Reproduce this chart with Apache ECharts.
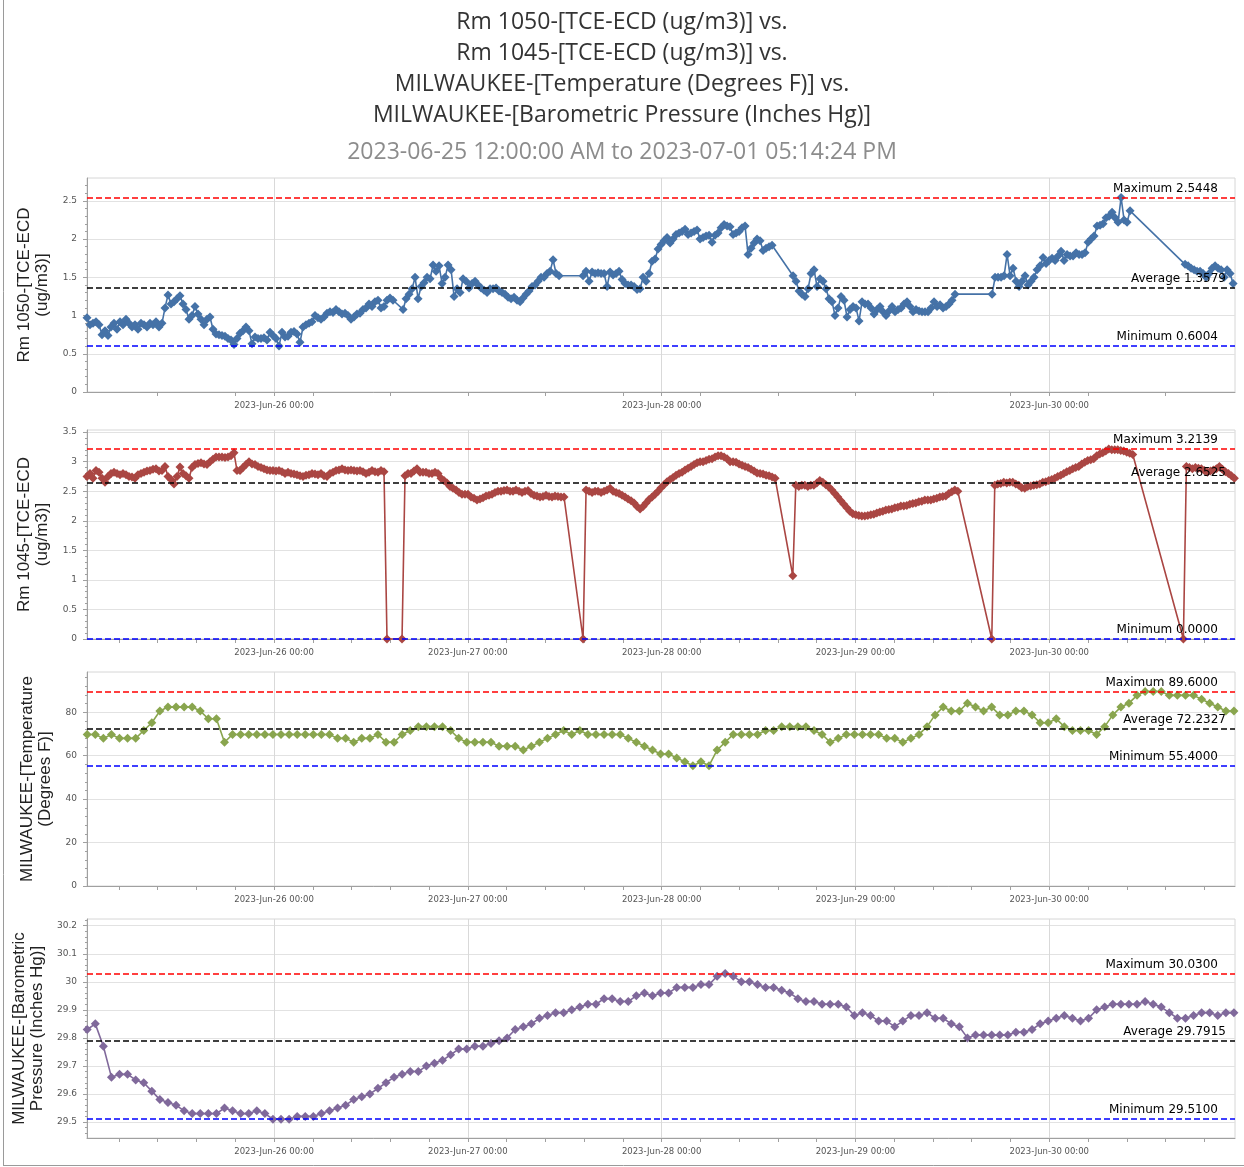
<!DOCTYPE html>
<html>
<head>
<meta charset="utf-8">
<title>Rm 1050 vs Rm 1045 vs MILWAUKEE</title>
<script src="https://cdn.jsdelivr.net/npm/echarts@6/dist/echarts.min.js"></script>
<style>
  html, body { margin: 0; padding: 0; background: #fff; }
  #container { width: 1244px; height: 1167px; }
</style>
</head>
<body>
<div id="container"></div>
<script>
// x values are hours counted from 2023-06-25 00:00
const X_MIN = 0.84;
const X_MAX = 143.0;

const DAY_HOURS = [24, 48, 72, 96, 120];
const DAY_LABELS = ['2023-Jun-26 00:00', '2023-Jun-27 00:00', '2023-Jun-28 00:00', '2023-Jun-29 00:00', '2023-Jun-30 00:00'];
const TOP_DAY_HOURS = [24, 72, 120];

const TITLE_LINES = [
  'Rm 1050-[TCE-ECD (ug/m3)] vs.',
  'Rm 1045-[TCE-ECD (ug/m3)] vs.',
  'MILWAUKEE-[Temperature (Degrees F)] vs.',
  'MILWAUKEE-[Barometric Pressure (Inches Hg)]'
];
const SUBTITLE = '2023-06-25 12:00:00 AM to 2023-07-01 05:14:24 PM';

const Y_NAMES = [
  'Rm 1050-[TCE-ECD\n(ug/m3)]',
  'Rm 1045-[TCE-ECD\n(ug/m3)]',
  'MILWAUKEE-[Temperature\n(Degrees F)]',
  'MILWAUKEE-[Barometric\nPressure (Inches Hg)]'
];
const Y_TICKS_1050 = [0, 0.5, 1, 1.5, 2, 2.5];
const Y_TICKS_1045 = [0, 0.5, 1, 1.5, 2, 2.5, 3, 3.5];
const Y_TICKS_TEMP = [0, 20, 40, 60, 80];
const Y_TICKS_PRESS = [29.5, 29.6, 29.7, 29.8, 29.9, 30, 30.1, 30.2];

// [maximum, average, minimum]
const STATS_1050 = [2.5448, 1.3579, 0.6004];
const STATS_1045 = [3.2139, 2.6525, 0.0000];
const STATS_TEMP = [89.6, 72.2327, 55.4];
const STATS_PRESS = [30.03, 29.7915, 29.51];

// sensor readings, one every SAMPLE_STEP_H hours inside each run
const SAMPLE_STEP_H = 0.3715;

const RM1050_RUN_START = [0.84, 39.98, 62.27, 88.27, 112.92, 136.82];
const RM1050_RUNS = [
  [0.97,0.88,0.90,0.92,0.88,0.75,0.80,0.74,0.85,0.90,
   0.82,0.92,0.88,0.95,0.90,0.85,0.88,0.82,0.90,0.88,
   0.85,0.90,0.88,0.92,0.85,0.90,1.10,1.27,1.15,1.18,
   1.22,1.26,1.15,1.08,0.95,1.00,1.12,1.02,0.95,0.88,
   0.95,0.98,0.82,0.76,0.75,0.74,0.73,0.70,0.68,0.62,
   0.70,0.77,0.80,0.85,0.80,0.63,0.72,0.70,0.70,0.71,
   0.68,0.78,0.74,0.70,0.6004,0.78,0.72,0.73,0.78,0.79,
   0.76,0.65,0.85,0.88,0.90,0.92,1.00,0.97,0.95,0.98,
   1.03,1.05,1.04,1.08,1.05,1.02,1.03,1.00,0.95,0.98,
   1.02,1.03,1.08,1.10,1.15,1.12,1.18,1.20,1.10,1.12,
   1.20,1.23,1.20],
  [1.08,1.22,1.28,1.35,1.50,1.22,1.38,1.43,1.50,1.48,
   1.66,1.58,1.65,1.42,1.50,1.66,1.60,1.25,1.35,1.30,
   1.48,1.45,1.36,1.42,1.45,1.40,1.36,1.33,1.30,1.35,
   1.35,1.36,1.32,1.30,1.28,1.24,1.22,1.24,1.20,1.18,
   1.23,1.28,1.32,1.38,1.40,1.45,1.50,1.50,1.55,1.58,
   1.73,1.55,1.52],
  [1.52,1.58,1.45,1.57,1.55,1.56,1.55,1.55,1.38,1.57,
   1.53,1.55,1.58,1.47,1.42,1.40,1.40,1.38,1.34,1.35,
   1.50,1.45,1.55,1.71,1.74,1.87,1.93,1.98,2.02,1.95,
   2.00,2.06,2.08,2.10,2.13,2.06,2.08,2.10,2.12,2.00,
   2.02,2.04,2.05,1.96,2.05,2.08,2.15,2.19,2.17,2.16,
   2.06,2.08,2.10,2.15,2.17,1.80,1.88,1.95,2.00,1.98,
   1.85,1.88,1.90,1.92],
  [1.52,1.45,1.32,1.28,1.25,1.35,1.55,1.60,1.38,1.48,
   1.45,1.35,1.22,1.18,1.00,1.10,1.25,1.20,0.98,1.08,
   1.12,1.10,0.93,1.18,1.15,1.15,1.10,1.02,1.08,1.12,
   1.05,1.00,1.06,1.12,1.05,1.08,1.10,1.15,1.18,1.12,
   1.05,1.08,1.06,1.05,1.05,1.05,1.10,1.18,1.12,1.14,
   1.10,1.12,1.15,1.20,1.28],
  [1.28,1.50,1.50,1.50,1.52,1.80,1.52,1.62,1.45,1.38,
   1.45,1.52,1.40,1.45,1.50,1.60,1.65,1.76,1.68,1.72,
   1.75,1.72,1.78,1.84,1.72,1.80,1.78,1.78,1.82,1.80,
   1.80,1.82,1.96,2.00,2.04,2.17,2.18,2.20,2.28,2.30,
   2.35,2.28,2.22,2.5448,2.25,2.22,2.37],
  [1.67,1.65,1.62,1.60,1.58,1.58,1.55,1.50,1.55,1.62,
   1.65,1.62,1.60,1.50,1.60,1.55,1.42]
];

const RM1045_RUN_START = [0.84, 39.85, 62.27, 88.24, 112.88, 136.61];
const RM1045_RUNS = [
  [2.75,2.80,2.72,2.85,2.82,2.72,2.65,2.75,2.80,2.82,
   2.80,2.78,2.80,2.78,2.75,2.74,2.72,2.78,2.80,2.82,
   2.84,2.85,2.87,2.88,2.84,2.85,2.92,2.75,2.70,2.62,
   2.75,2.91,2.80,2.76,2.72,2.90,2.95,2.97,2.98,2.96,
   2.95,3.00,3.04,3.08,3.08,3.08,3.07,3.08,3.10,3.15,
   2.85,2.85,2.90,2.95,3.00,2.96,2.95,2.92,2.90,2.88,
   2.86,2.85,2.85,2.84,2.85,2.83,2.80,2.82,2.80,2.79,
   2.78,2.76,2.75,2.77,2.78,2.80,2.79,2.78,2.80,2.76,
   2.75,2.80,2.82,2.85,2.86,2.88,2.86,2.85,2.86,2.85,
   2.84,2.85,2.83,2.80,2.82,2.85,2.83,2.82,2.85,2.83,
   0],
  [0,2.76,2.80,2.80,2.84,2.88,2.82,2.82,2.82,2.80,
   2.80,2.82,2.80,2.72,2.68,2.64,2.58,2.55,2.52,2.48,
   2.45,2.45,2.45,2.40,2.38,2.35,2.37,2.39,2.42,2.43,
   2.45,2.48,2.50,2.50,2.51,2.52,2.50,2.50,2.52,2.50,
   2.48,2.50,2.51,2.46,2.43,2.42,2.40,2.41,2.43,2.41,
   2.40,2.42,2.41,2.40,2.40],
  [0,2.52,2.50,2.48,2.50,2.50,2.48,2.50,2.52,2.55,
   2.50,2.48,2.46,2.43,2.40,2.37,2.34,2.30,2.24,2.20,
   2.24,2.30,2.36,2.40,2.45,2.50,2.56,2.61,2.66,2.70,
   2.73,2.77,2.80,2.82,2.86,2.89,2.92,2.95,2.98,3.00,
   3.00,3.02,3.04,3.05,3.08,3.10,3.10,3.08,3.05,3.00,
   3.00,2.99,2.96,2.94,2.92,2.90,2.87,2.84,2.81,2.80,
   2.79,2.77,2.76,2.74,2.72],
  [1.07,2.60,2.58,2.60,2.60,2.58,2.60,2.60,2.64,2.68,
   2.65,2.61,2.57,2.52,2.46,2.40,2.34,2.28,2.22,2.16,
   2.12,2.10,2.09,2.08,2.08,2.09,2.10,2.11,2.13,2.15,
   2.16,2.18,2.19,2.20,2.22,2.23,2.25,2.25,2.26,2.28,
   2.29,2.30,2.32,2.33,2.35,2.35,2.35,2.37,2.38,2.40,
   2.41,2.42,2.46,2.49,2.52,2.50],
  [0,2.60,2.62,2.63,2.65,2.64,2.65,2.65,2.62,2.60,
   2.56,2.55,2.58,2.59,2.60,2.61,2.62,2.65,2.66,2.68,
   2.70,2.72,2.75,2.77,2.80,2.83,2.85,2.88,2.90,2.92,
   2.96,2.99,3.02,3.03,3.05,3.10,3.13,3.15,3.18,3.2139,
   3.20,3.20,3.20,3.19,3.18,3.16,3.14,3.12],
  [0,2.92,2.90,2.88,2.90,2.89,2.88,2.85,2.82,2.84,
   2.86,2.88,2.92,2.87,2.83,2.80,2.76,2.72]
];

// hourly weather observations, first one at 00:52 on Jun-25
const FIRST_OBS_H = 52 / 60;
const TEMP_F = [
  69.8,69.8,68,69.8,68,68,68,71.6,75.2,80.6,
  82.4,82.4,82.4,82.4,80.6,77,77,66.2,69.8,69.8,
  69.8,69.8,69.8,69.8,69.8,69.8,69.8,69.8,69.8,69.8,
  69.8,68,68,66.2,68,68,69.8,66.2,66.2,69.8,
  71.6,73.4,73.4,73.4,73.4,71.6,68,66.2,66.2,66.2,
  66.2,64.4,64.4,64.4,62.6,64.4,66.2,68,69.8,71.6,
  69.8,71.6,69.8,69.8,69.8,69.8,69.8,68,66.2,64.4,
  62.6,60.8,60.8,59,57.2,55.4,57.2,55.4,62.6,66.2,
  69.8,69.8,69.8,69.8,71.6,71.6,73.4,73.4,73.4,73.4,
  71.6,69.8,66.2,68,69.8,69.8,69.8,69.8,69.8,68,
  68,66.2,68,69.8,73.4,78.8,82.4,80.6,80.6,84.2,
  82.4,80.6,82.4,78.8,78.8,80.6,80.6,78.8,75.2,75.2,
  77,73.4,71.6,71.6,71.6,69.8,73.4,78.8,82.4,84.2,
  87.8,89.6,89.6,89.6,87.8,87.8,87.8,87.8,86,84.2,
  82.4,80.6,80.6
];
const PRESS_INHG = [
  29.83,29.85,29.77,29.66,29.67,29.67,29.65,29.64,29.61,29.58,
  29.57,29.56,29.54,29.53,29.53,29.53,29.53,29.55,29.54,29.53,
  29.53,29.54,29.53,29.51,29.51,29.51,29.52,29.52,29.52,29.53,
  29.54,29.55,29.56,29.58,29.59,29.60,29.62,29.64,29.66,29.67,
  29.68,29.68,29.70,29.71,29.72,29.74,29.76,29.76,29.77,29.77,
  29.78,29.79,29.80,29.83,29.84,29.85,29.87,29.88,29.89,29.89,
  29.90,29.91,29.92,29.92,29.94,29.94,29.93,29.93,29.95,29.96,
  29.95,29.96,29.96,29.98,29.98,29.98,29.99,29.99,30.02,30.03,
  30.02,30.00,30.00,29.99,29.98,29.98,29.97,29.96,29.94,29.93,
  29.93,29.92,29.92,29.92,29.91,29.88,29.89,29.88,29.86,29.86,
  29.84,29.86,29.88,29.88,29.89,29.87,29.87,29.85,29.84,29.80,
  29.81,29.81,29.81,29.81,29.81,29.82,29.82,29.83,29.85,29.86,
  29.87,29.88,29.87,29.86,29.87,29.90,29.91,29.92,29.92,29.92,
  29.92,29.93,29.92,29.91,29.89,29.87,29.87,29.88,29.89,29.89,
  29.88,29.89,29.89
];

const COLORS = ['#4572A7', '#AA4643', '#89A54E', '#80699B'];

function runsToPoints(starts, runs) {
  let pts = [];
  runs.forEach(function (vals, r) {
    vals.forEach(function (v, i) { pts.push([starts[r] + i * SAMPLE_STEP_H, v]); });
  });
  return pts;
}
function hourlyToPoints(vals) {
  return vals.map(function (v, i) { return [FIRST_OBS_H + i, v]; });
}
function minorHours(step) {
  let out = [];
  for (let h = step; h < X_MAX; h += step) {
    if (h > X_MIN) out.push(Math.round(h * 100) / 100);
  }
  return out;
}

const grids = [
  {left: 87, right: 9, top: 178, height: 214},
  {left: 87, right: 9, top: 430, height: 209},
  {left: 87, right: 9, top: 672, height: 214},
  {left: 87, right: 9, top: 919, height: 219}
];
grids.forEach(function (g) { g.show = true; g.borderColor = '#d6d6d6'; g.borderWidth = 1; });

const AXIS_GREY = '#a0a0a0';
const tickFont = {color: '#555', fontSize: 8.5, fontFamily: 'DejaVu Sans'};

let xAxes = [];
for (let i = 0; i < 4; i++) {
  let days = i === 0 ? TOP_DAY_HOURS : DAY_HOURS;
  xAxes.push({
    type: 'value', gridIndex: i, min: X_MIN, max: X_MAX, position: 'bottom',
    axisLine: {onZero: false, lineStyle: {color: AXIS_GREY}},
    axisTick: {customValues: days, length: 4, lineStyle: {color: AXIS_GREY}},
    axisLabel: Object.assign({
      customValues: days, margin: 9,
      formatter: function (v) { return DAY_LABELS[DAY_HOURS.indexOf(Math.round(v))]; }
    }, tickFont),
    splitLine: {show: true, lineStyle: {color: '#d9d9d9'}}
  });
}
for (let i = 0; i < 4; i++) {
  // second axis only carries the small ticks
  xAxes.push({
    type: 'value', gridIndex: i, min: X_MIN, max: X_MAX, position: 'bottom',
    axisLine: {show: false},
    axisTick: {customValues: minorHours(i === 0 ? 9.6 : 4.8), length: 4, lineStyle: {color: AXIS_GREY}},
    axisLabel: {show: false},
    splitLine: {show: false}
  });
}

const yRanges = [
  {min: 0, max: 2.7993, interval: 0.5, ticks: Y_TICKS_1050},
  {min: 0, max: 3.5353, interval: 0.5, ticks: Y_TICKS_1045},
  {min: 0, max: 98.56, interval: 20, ticks: Y_TICKS_TEMP},
  {min: 29.443, max: 30.224, splitNumber: 8, ticks: Y_TICKS_PRESS}
];
let yAxes = yRanges.map(function (r, i) {
  let ax = {
    type: 'value', gridIndex: i, min: r.min, max: r.max,
    name: Y_NAMES[i], nameLocation: 'middle', nameRotate: 90, nameGap: 31,
    nameTextStyle: {fontFamily: 'Liberation Sans', fontSize: 17, color: '#222', lineHeight: 18},
    axisLine: {show: true, lineStyle: {color: AXIS_GREY}},
    axisTick: {show: true, customValues: r.ticks, length: 4, lineStyle: {color: AXIS_GREY}},
    minorTick: {show: true, splitNumber: 5, length: 2, lineStyle: {color: AXIS_GREY}},
    axisLabel: Object.assign({customValues: r.ticks, margin: 10}, tickFont, {fontSize: 9}),
    splitLine: {show: true, lineStyle: {color: '#e2e2e2'}}
  };
  if (r.interval) ax.interval = r.interval;
  if (r.splitNumber) ax.splitNumber = r.splitNumber;
  return ax;
});

function statLines(stats, avgShift) {
  const mk = function (v, name, color, dx) {
    return {
      yAxis: v,
      lineStyle: {color: color},
      label: {formatter: name + ' ' + v.toFixed(4), distance: [dx, 3]}
    };
  };
  return {
    silent: true, animation: false, symbol: ['none', 'none'],
    lineStyle: {type: [6, 3], width: 1.5},
    label: {position: 'insideEndTop', color: '#000', fontSize: 12, fontFamily: 'DejaVu Sans'},
    emphasis: {disabled: true},
    data: [
      mk(stats[0], 'Maximum', '#ff0000', 17),
      mk(stats[1], 'Average', '#000000', avgShift),
      mk(stats[2], 'Minimum', '#0000ff', 17)
    ]
  };
}

const panelData = [
  runsToPoints(RM1050_RUN_START, RM1050_RUNS),
  runsToPoints(RM1045_RUN_START, RM1045_RUNS),
  hourlyToPoints(TEMP_F),
  hourlyToPoints(PRESS_INHG)
];
const panelStats = [STATS_1050, STATS_1045, STATS_TEMP, STATS_PRESS];

let series = panelData.map(function (pts, i) {
  return {
    type: 'line', xAxisIndex: i, yAxisIndex: i, data: pts,
    symbol: 'diamond', symbolSize: 9, showSymbol: true, showAllSymbol: true,
    itemStyle: {color: COLORS[i]},
    lineStyle: {color: COLORS[i], width: 1.6},
    emphasis: {disabled: true},
    markLine: statLines(panelStats[i], 9)
  };
});

let myChart = echarts.init(document.getElementById('container'), null, {renderer: 'canvas'});
myChart.setOption({
  animation: false,
  backgroundColor: '#fff',
  title: {
    text: TITLE_LINES.join('\n'),
    subtext: SUBTITLE,
    left: 'center', top: 2, itemGap: 6,
    textStyle: {fontFamily: 'Open Sans', fontSize: 23, fontWeight: 'normal', color: '#333', lineHeight: 31},
    subtextStyle: {fontFamily: 'Open Sans', fontSize: 23, color: '#8c8c8c', lineHeight: 31}
  },
  graphic: [
    {type: 'line', shape: {x1: 3.5, y1: 0, x2: 3.5, y2: 1166}, style: {stroke: '#9a9a9a', lineWidth: 1}, silent: true},
    {type: 'line', shape: {x1: 3, y1: 1165.5, x2: 1244, y2: 1165.5}, style: {stroke: '#9a9a9a', lineWidth: 1}, silent: true}
  ],
  grid: grids,
  xAxis: xAxes,
  yAxis: yAxes,
  series: series
});
</script>
</body>
</html>
